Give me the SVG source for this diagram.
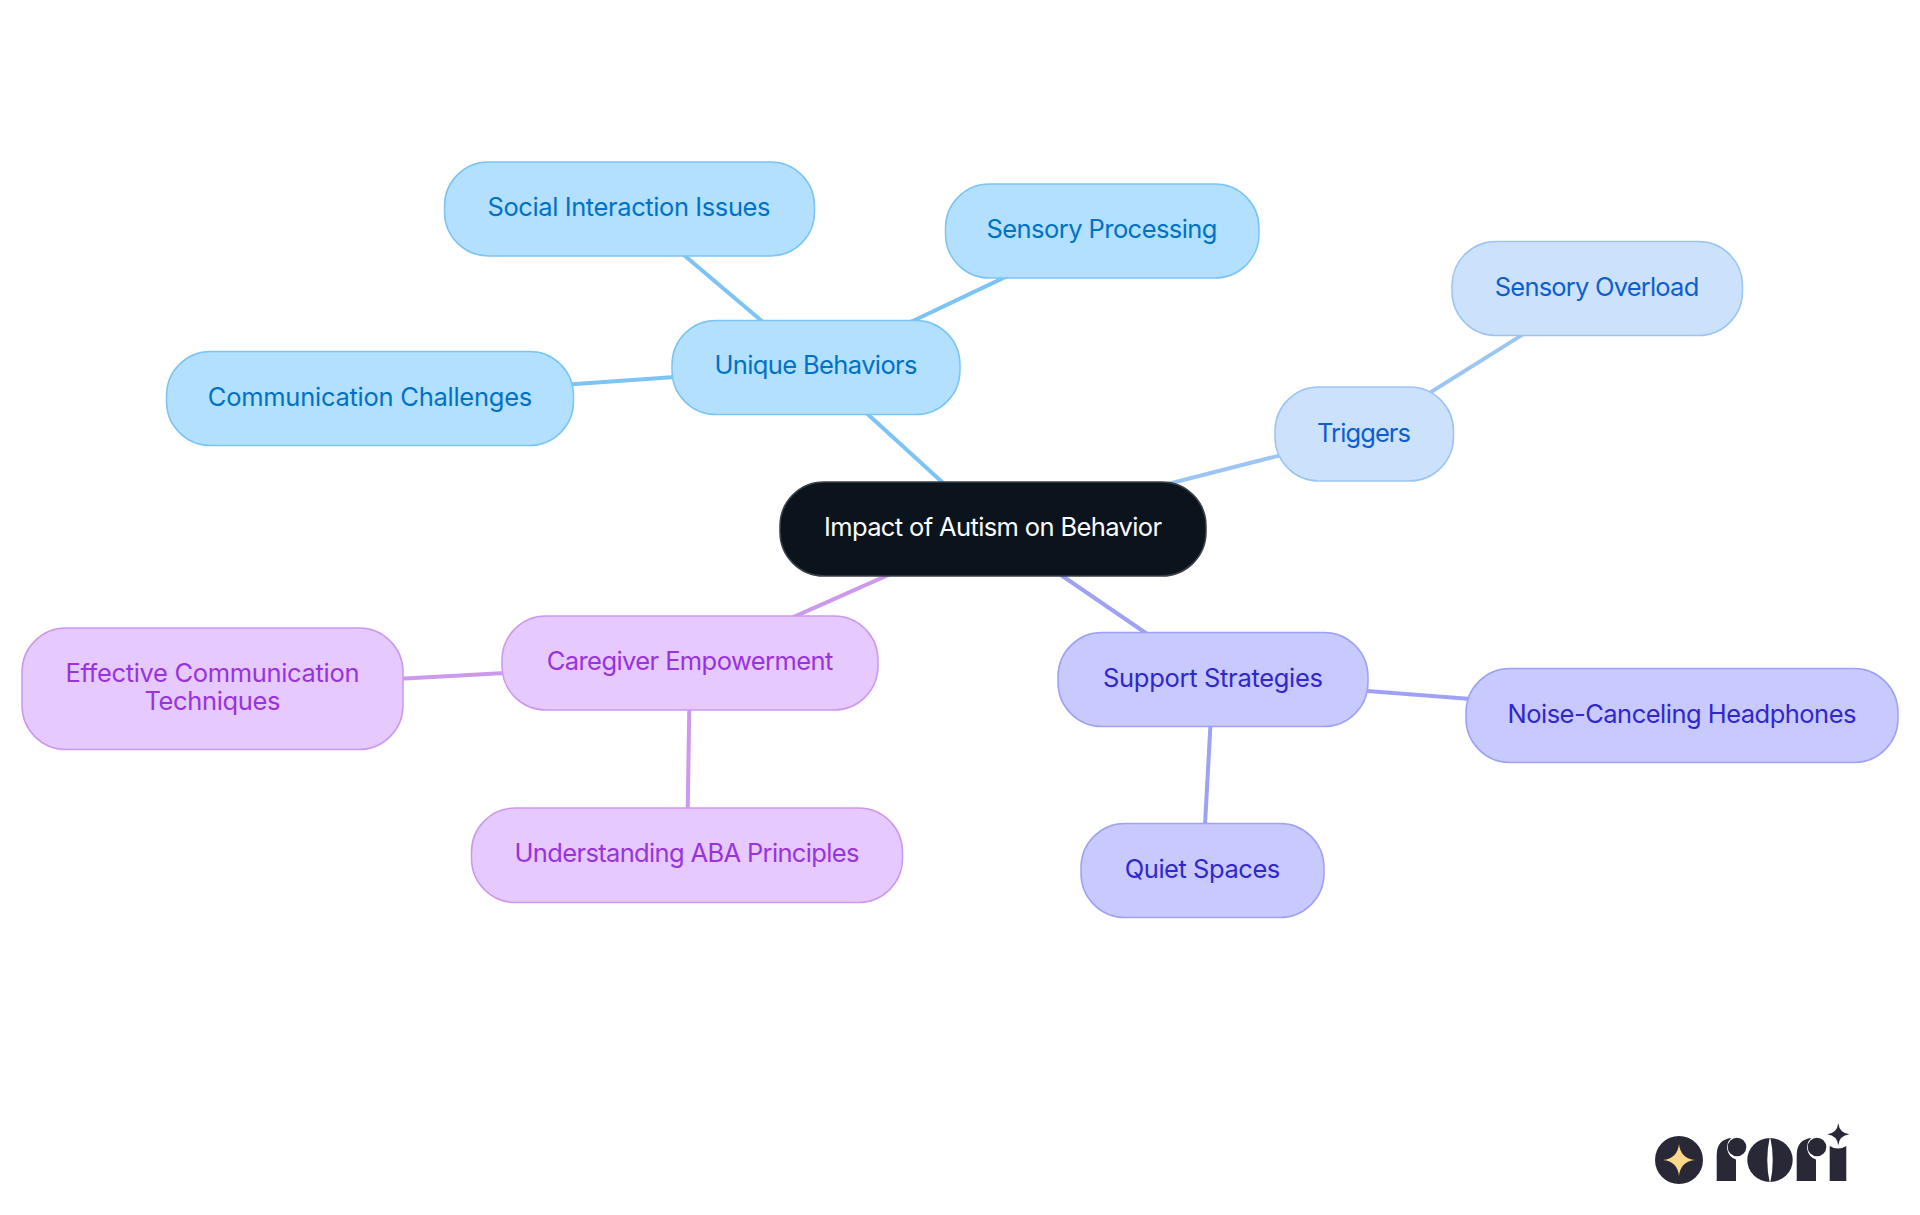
<svg xmlns="http://www.w3.org/2000/svg" width="1920" height="1215" viewBox="0 0 1920 1215">
<style>
text{font-family:"Inter","Noto Sans",sans-serif;font-size:25.5px;font-weight:400;text-anchor:middle}
rect{stroke-width:1.5}
.c line{stroke-width:4;fill:none}
.b rect{fill:#b3e0ff;stroke:#7cc4f5}.b text{fill:#0072c6}
.t rect{fill:#cce2fc;stroke:#9cc5f3}.t text{fill:#0d5fcf}
.s rect{fill:#c8c9ff;stroke:#9fa1f5}.s text{fill:#3027cc}
.p rect{fill:#e6c9ff;stroke:#cc99ee}.p text{fill:#9933dd}
.l{fill:#292836}
</style>
<rect width="1920" height="1215" fill="#fff" style="stroke:none"/>
<g class="c">
<g stroke="#7cc4f5">
<line x1="816" y1="367" x2="993" y2="528.5"/>
<line x1="816" y1="367" x2="629" y2="208.5"/>
<line x1="816" y1="367" x2="1102" y2="231"/>
<line x1="816" y1="367" x2="370" y2="398.5"/>
</g>
<g stroke="#9cc5f3">
<line x1="993" y1="528.5" x2="1364" y2="434"/>
<line x1="1364" y1="434" x2="1597" y2="288"/>
</g>
<g stroke="#9fa1f5">
<line x1="993" y1="528.5" x2="1213" y2="679"/>
<line x1="1213" y1="679" x2="1682" y2="715.5"/>
<line x1="1213" y1="679" x2="1202.5" y2="870"/>
</g>
<g stroke="#cc99ee">
<line x1="993" y1="528.5" x2="690" y2="663"/>
<line x1="690" y1="663" x2="212.5" y2="689"/>
<line x1="690" y1="663" x2="687" y2="855"/>
</g>
</g>
<g id="root"><rect x="780" y="482" width="426" height="94" rx="44" fill="#0b131c" stroke="#3a4048"/><text x="993" y="536" fill="#fff" textLength="338">Impact of Autism on Behavior</text></g>
<g id="unique" class="b"><rect x="672" y="320.500" width="288" height="94" rx="44"/><text x="816" y="374" textLength="203">Unique Behaviors</text></g>
<g id="social" class="b"><rect x="444.500" y="162" width="370" height="94" rx="44"/><text x="629" y="216" textLength="283">Social Interaction Issues</text></g>
<g id="sensoryp" class="b"><rect x="945.500" y="184" width="313.500" height="94" rx="44"/><text x="1102" y="238" textLength="231">Sensory Processing</text></g>
<g id="comm" class="b"><rect x="166.500" y="351.500" width="407" height="94" rx="44"/><text x="370" y="406" textLength="324.500">Communication Challenges</text></g>
<g id="triggers" class="t"><rect x="1275" y="387" width="178.500" height="94" rx="44"/><text x="1364" y="442" textLength="94">Triggers</text></g>
<g id="sensoryo" class="t"><rect x="1452" y="241.500" width="290.500" height="94" rx="44"/><text x="1597" y="295.500" textLength="204.500">Sensory Overload</text></g>
<g id="support" class="s"><rect x="1058" y="632.500" width="310" height="94" rx="44"/><text x="1213" y="687" textLength="220">Support Strategies</text></g>
<g id="noise" class="s"><rect x="1466" y="668.500" width="432" height="94" rx="44"/><text x="1682" y="723" textLength="349">Noise-Canceling Headphones</text></g>
<g id="quiet" class="s"><rect x="1081" y="823.500" width="243" height="94" rx="44"/><text x="1202.500" y="877.500" textLength="155.500">Quiet Spaces</text></g>
<g id="caregiver" class="p"><rect x="502" y="616" width="376" height="94" rx="44"/><text x="690" y="670" textLength="286.500">Caregiver Empowerment</text></g>
<g id="effective" class="p"><rect x="22" y="628" width="381" height="121.500" rx="44"/><text x="212.500" y="682" textLength="294">Effective Communication</text><text x="212.500" y="710" textLength="136">Techniques</text></g>
<g id="aba" class="p"><rect x="471.500" y="808" width="431" height="94.500" rx="44"/><text x="687" y="862" textLength="345">Understanding ABA Principles</text></g>
<g id="logo" style="stroke:none">
<circle class="l" cx="1679" cy="1160" r="24"/>
<path fill="#fdd78a" d="M1679 1144Q1680.500 1158.500 1695 1160Q1680.500 1161.500 1679 1176Q1677.500 1161.500 1663 1160Q1677.500 1158.500 1679 1144Z"/>
<path class="l" d="M1716.700 1181V1155Q1716.700 1139.500 1731.500 1138A12.500 12.500 0 0 0 1736 1159.500V1181Z"/>
<circle class="l" cx="1737" cy="1147" r="9.300"/>
<ellipse class="l" cx="1770" cy="1160" rx="22.700" ry="22"/>
<path fill="#fff" d="M1770 1136Q1764.500 1160 1770 1184Q1775.500 1160 1770 1136Z"/>
<path class="l" d="M1796.700 1181V1155Q1796.700 1139.500 1811.500 1138A12.500 12.500 0 0 0 1816 1159.500V1181Z"/>
<circle class="l" cx="1817" cy="1147" r="9.300"/>
<path class="l" d="M1829.700 1181V1146Q1838 1151 1846.300 1146V1181Z"/>
<path class="l" d="M1838.300 1123.300Q1839.500 1133 1849.300 1134.300Q1839.500 1135.500 1838.300 1145.300Q1837 1135.500 1827.300 1134.300Q1837 1133 1838.300 1123.300Z"/>
</g>
</svg>
